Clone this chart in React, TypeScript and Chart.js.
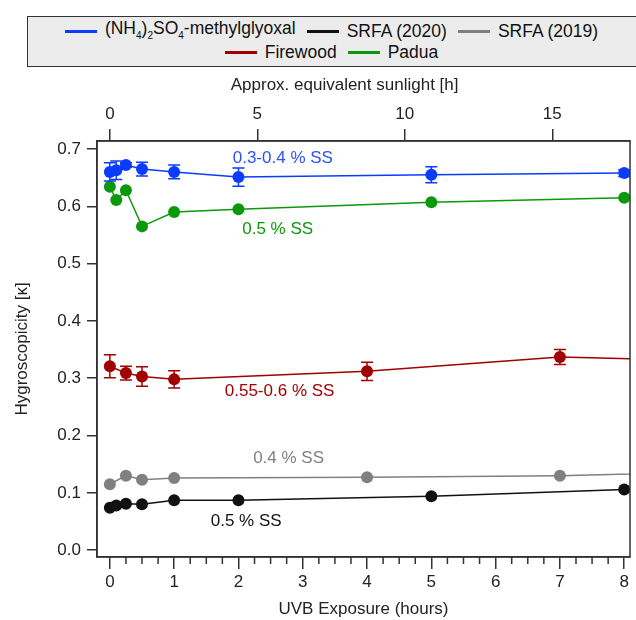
import React, { useEffect, useRef } from "react";
import { Chart, registerables } from "chart.js";
Chart.register(...registerables);

const FONT = "'Liberation Sans', Arial, Helvetica, sans-serif";

// ---- data (UVB exposure hours, hygroscopicity kappa) ----
const amsX = [0, 0.1, 0.25, 0.5, 1, 2, 5, 8];
const amsY = [0.66, 0.663, 0.672, 0.665, 0.66, 0.651, 0.655, 0.658];
const amsErr = [0.016, 0.016, 0.004, 0.012, 0.012, 0.016, 0.014, 0.006];

const srfa20X = [0, 0.1, 0.25, 0.5, 1, 2, 5, 8];
const srfa20Y = [0.074, 0.078, 0.081, 0.08, 0.087, 0.087, 0.094, 0.106];

const srfa19X = [0, 0.25, 0.5, 1, 4, 7, 10];
const srfa19Y = [0.115, 0.13, 0.123, 0.126, 0.127, 0.13, 0.138];

const fireX = [0, 0.25, 0.5, 1, 4, 7, 10];
const fireY = [0.321, 0.309, 0.303, 0.298, 0.312, 0.337, 0.329];
const fireErr = [0.02, 0.012, 0.017, 0.015, 0.016, 0.013, 0.01];

const paduaX = [0, 0.1, 0.25, 0.5, 1, 2, 5, 8];
const paduaY = [0.634, 0.611, 0.628, 0.565, 0.59, 0.595, 0.607, 0.615];

const bottomTicks = [0, 1, 2, 3, 4, 5, 6, 7, 8];
const topTicks = [0, 5, 10, 15];
const yTicks = [0, 0.1, 0.2, 0.3, 0.4, 0.5, 0.6, 0.7];
const SUN_PER_UVB = 2.18;

const BLUE = "#0a3cff";
const BLACK = "#111111";
const GREY = "#808080";
const RED = "#a00000";
const GREEN = "#0a990a";

const annotations = [
  { text: "0.3-0.4 % SS", x: 2.69, y: 0.683, color: "#2a50ff" },
  { text: "0.5 % SS", x: 2.61, y: 0.56, color: GREEN },
  { text: "0.55-0.6 % SS", x: 2.64, y: 0.277, color: RED },
  { text: "0.4 % SS", x: 2.78, y: 0.161, color: GREY },
  { text: "0.5 % SS", x: 2.12, y: 0.05, color: BLACK },
];

const X_MIN = -0.2;
const X_MAX = 8.09;

const pts = (xs: number[], ys: number[]) => xs.map((x, i) => ({ x, y: ys[i] }));

const framePlugin = {
  id: "frame",
  afterDraw(chart: any) {
    const { ctx, chartArea: a } = chart;
    ctx.save();
    ctx.strokeStyle = "#333";
    ctx.lineWidth = 1.5;
    ctx.strokeRect(a.left, a.top, a.right - a.left, a.bottom - a.top);
    // minor ticks on bottom axis
    const xs = chart.scales.x;
    ctx.beginPath();
    for (let v = 0.25; v < 8; v += 0.25) {
      if (Math.abs(v - Math.round(v)) < 1e-6) continue;
      const px = xs.getPixelForValue(v);
      ctx.moveTo(px, a.bottom);
      ctx.lineTo(px, a.bottom + 7);
    }
    ctx.stroke();
    ctx.restore();
  },
};

const errorBarPlugin = {
  id: "errbars",
  afterDatasetsDraw(chart: any) {
    const { ctx } = chart;
    const xs = chart.scales.x;
    const ys = chart.scales.y;
    ctx.save();
    chart.data.datasets.forEach((ds: any) => {
      if (!ds.errors) return;
      ctx.strokeStyle = ds.borderColor;
      ctx.lineWidth = 1.5;
      ds.data.forEach((p: any, i: number) => {
        const e = ds.errors[i];
        if (!e || p.x > X_MAX) return;
        const px = xs.getPixelForValue(p.x);
        const y1 = ys.getPixelForValue(p.y + e);
        const y2 = ys.getPixelForValue(p.y - e);
        ctx.beginPath();
        ctx.moveTo(px, y1);
        ctx.lineTo(px, y2);
        ctx.moveTo(px - 6, y1);
        ctx.lineTo(px + 6, y1);
        ctx.moveTo(px - 6, y2);
        ctx.lineTo(px + 6, y2);
        ctx.stroke();
      });
    });
    ctx.restore();
  },
};

const annotationPlugin = {
  id: "annot",
  afterDatasetsDraw(chart: any) {
    const { ctx } = chart;
    const xs = chart.scales.x;
    const ys = chart.scales.y;
    ctx.save();
    ctx.font = `17px ${FONT}`;
    ctx.textAlign = "center";
    ctx.textBaseline = "middle";
    annotations.forEach((a) => {
      ctx.fillStyle = a.color;
      ctx.fillText(a.text, xs.getPixelForValue(a.x), ys.getPixelForValue(a.y));
    });
    ctx.restore();
  },
};

function ds(label: string, color: string, data: any[], errors?: number[]) {
  return {
    label,
    data,
    errors,
    borderColor: color,
    backgroundColor: color,
    pointBackgroundColor: color,
    pointBorderColor: color,
    pointRadius: 6,
    pointBorderWidth: 0,
    borderWidth: 1.5,
    showLine: true,
    tension: 0,
    clip: 0,
  };
}

const SUB = { fontSize: 10 };

const legendItems: { color: string; label: React.ReactNode }[][] = [
  [
    {
      color: BLUE,
      label: (
        <>
          (NH<sub style={SUB}>4</sub>)<sub style={SUB}>2</sub>SO<sub style={SUB}>4</sub>-methylglyoxal
        </>
      ),
    },
    { color: BLACK, label: "SRFA (2020)" },
    { color: GREY, label: "SRFA (2019)" },
  ],
  [
    { color: RED, label: "Firewood" },
    { color: GREEN, label: "Padua" },
  ],
];

export default function App() {
  const ref = useRef<HTMLCanvasElement | null>(null);

  useEffect(() => {
    if (!ref.current) return;
    const font = { family: FONT, size: 17 };
    const chart = new Chart(ref.current, {
      type: "line",
      data: {
        datasets: [
          ds("(NH4)2SO4-methylglyoxal", BLUE, pts(amsX, amsY), amsErr),
          ds("SRFA (2020)", BLACK, pts(srfa20X, srfa20Y)),
          ds("SRFA (2019)", GREY, pts(srfa19X, srfa19Y)),
          ds("Firewood", RED, pts(fireX, fireY), fireErr),
          ds("Padua", GREEN, pts(paduaX, paduaY)),
        ] as any,
      },
      options: {
        animation: false,
        responsive: false,
        layout: { padding: { top: 72, right: 4, left: 0, bottom: 0 } },
        plugins: { legend: { display: false }, tooltip: { enabled: false } },
        scales: {
          x: {
            type: "linear",
            position: "bottom",
            min: X_MIN,
            max: X_MAX,
            afterBuildTicks: (s: any) => {
              s.ticks = bottomTicks.map((v) => ({ value: v }));
            },
            afterFit: (s: any) => {
              s.height = 63;
            },
            grid: { drawOnChartArea: false, tickLength: 12, color: "#333", lineWidth: 1.5 },
            border: { color: "#333", width: 1.5 },
            ticks: { font, color: "#222", padding: 3, maxRotation: 0, callback: (v: any) => String(v) },
            title: { display: true, text: "UVB Exposure (hours)", font, color: "#222", padding: { top: 0, bottom: 0 } },
          },
          x2: {
            type: "linear",
            position: "top",
            min: X_MIN * SUN_PER_UVB,
            max: X_MAX * SUN_PER_UVB,
            afterBuildTicks: (s: any) => {
              s.ticks = topTicks.map((v) => ({ value: v }));
            },
            afterFit: (s: any) => {
              s.height = 69;
            },
            grid: { drawOnChartArea: false, tickLength: 12, color: "#333", lineWidth: 1.5 },
            border: { color: "#333", width: 1.5 },
            ticks: { font, color: "#222", padding: 4, maxRotation: 0, callback: (v: any) => String(v) },
            title: {
              display: true,
              text: "Approx. equivalent sunlight [h]        ",
              font,
              color: "#222",
              padding: { top: 3, bottom: 0 },
            },
          },
          y: {
            type: "linear",
            position: "left",
            min: -0.012,
            max: 0.714,
            afterBuildTicks: (s: any) => {
              s.ticks = yTicks.map((v) => ({ value: v }));
            },
            afterFit: (s: any) => {
              s.width = 97;
            },
            grid: { drawOnChartArea: false, tickLength: 10, color: "#333", lineWidth: 1.5 },
            border: { color: "#333", width: 1.5 },
            ticks: { font, color: "#222", padding: 6, callback: (v: any) => Number(v).toFixed(1) },
            title: { display: true, text: "Hygroscopicity [κ]", font, color: "#222", padding: { top: 12, bottom: 0 } },
          },
        },
      } as any,
      plugins: [errorBarPlugin, annotationPlugin, framePlugin],
    });
    return () => chart.destroy();
  }, []);

  return (
    <div
      style={{
        position: "absolute",
        left: 0,
        top: 0,
        width: 636,
        height: 620,
        overflow: "hidden",
        background: "#fff",
        fontFamily: FONT,
      }}
    >
      <canvas ref={ref} width={636} height={620} style={{ width: 636, height: 620, display: "block" }} />
      <div
        style={{
          position: "absolute",
          left: 27,
          top: 16,
          width: 640,
          height: 51,
          boxSizing: "border-box",
          background: "#ececec",
          border: "1.5px solid #333",
        }}
      />
      <div style={{ position: "absolute", left: 27, top: 21, width: 609 }}>
        {legendItems.map((row, ri) => (
          <div
            key={ri}
            style={{
              display: "flex",
              justifyContent: "center",
              alignItems: "center",
              height: 21,
              fontSize: 17.5,
              color: "#111",
              whiteSpace: "nowrap",
            }}
          >
            {row.map((it, i) => (
              <span
                key={i}
                style={{ display: "inline-flex", alignItems: "center", marginRight: i < row.length - 1 ? 11 : 0 }}
              >
                <span style={{ display: "inline-block", width: 32, height: 2.5, background: it.color, marginRight: 8 }} />
                <span style={{ lineHeight: "21px" }}>{it.label}</span>
              </span>
            ))}
          </div>
        ))}
      </div>
    </div>
  );
}
